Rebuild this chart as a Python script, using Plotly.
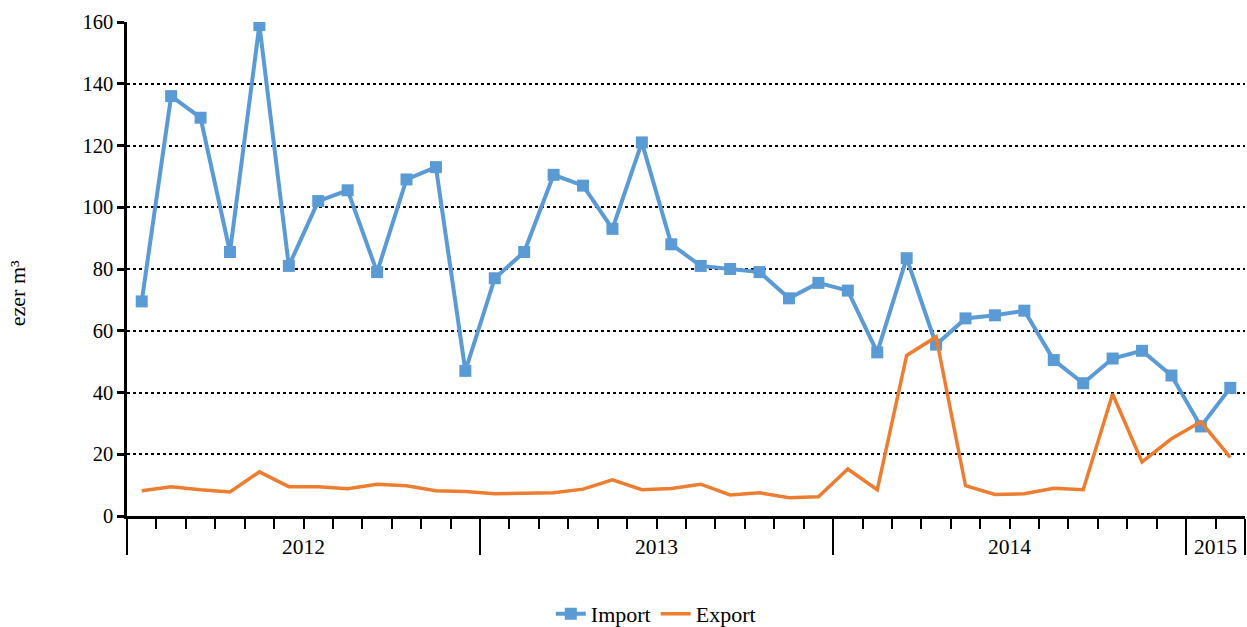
import plotly.graph_objects as go

months = list(range(38))  # Jan 2012 .. Feb 2015
import_vals = [69.5, 136, 129, 85.5, 159, 81, 102, 105.5, 79, 109, 113, 47,
               77, 85.5, 110.5, 107, 93, 121, 88, 81, 80, 79, 70.5, 75.5,
               73, 53, 83.5, 55.5, 64, 65, 66.5, 50.5, 43, 51, 53.5, 45.5,
               29, 41.5]
export_vals = [8.2, 9.5, 8.5, 7.8, 14.3, 9.5, 9.5, 8.8, 10.3, 9.8, 8.2, 7.9,
               7.2, 7.3, 7.5, 8.7, 11.7, 8.5, 8.9, 10.3, 6.8, 7.5, 5.9, 6.2,
               15.2, 8.5, 52, 58, 9.8, 7, 7.2, 9, 8.5, 39.5, 17.5, 25,
               30.5, 19]
years = ["2012", "2013", "2014", "2015"]
year_months = [12, 12, 12, 2]
y_ticks = [0, 20, 40, 60, 80, 100, 120, 140, 160]

FONT = "Liberation Serif"

# year boundaries & centres derived from month counts
bounds = [-0.5]
for n in year_months:
    bounds.append(bounds[-1] + n)
centres = [(bounds[i] + bounds[i + 1]) / 2 for i in range(len(years))]
month_bounds = [m - 0.5 for m in months] + [months[-1] + 0.5]

fig = go.Figure()
fig.add_trace(go.Scatter(x=months, y=import_vals, name="Import",
                         mode="lines+markers",
                         line=dict(color="#5B9BD5", width=4),
                         marker=dict(symbol="square", size=12, color="#5B9BD5")))
fig.add_trace(go.Scatter(x=months, y=export_vals, name="Export",
                         mode="lines",
                         line=dict(color="#ED7D31", width=3.5)))

xr = [month_bounds[0], month_bounds[-1]]
fig.update_layout(
    width=1247, height=627,
    margin=dict(l=127, r=2, t=22, b=111, autoexpand=False),
    paper_bgcolor="white", plot_bgcolor="white",
    font=dict(family=FONT, size=20, color="black"),
    showlegend=True,
    legend=dict(orientation="h", x=0.473, xanchor="center",
                yref="container", y=0.021, yanchor="middle",
                font=dict(family=FONT, size=22)),
    xaxis=dict(range=xr, tickmode="array", tickvals=bounds,
               ticks="outside", ticklen=36, tickwidth=2, tickcolor="black",
               minor=dict(tickmode="array", tickvals=month_bounds,
                          ticks="outside", ticklen=10, tickwidth=2,
                          tickcolor="black", showgrid=False),
               showticklabels=False, showgrid=False, zeroline=False,
               showline=True, linecolor="black", linewidth=2.5,
               automargin=False),
    yaxis=dict(range=[0, 160], tickmode="array", tickvals=y_ticks,
               ticks="outside", ticklen=7, tickwidth=2.5, tickcolor="black",
               showgrid=True, gridcolor="black", griddash="dot", gridwidth=1.5,
               zeroline=False, showline=True, linecolor="black", linewidth=2.5,
               tickfont=dict(family=FONT, size=20.5, color="black"),
               automargin=False),
)

fig.add_annotation(x=-0.0984, y=0.451, xref="paper", yref="paper",
                   text="ezer m³", textangle=-90, showarrow=False,
                   xanchor="center", yanchor="middle",
                   font=dict(family=FONT, size=22, color="black"))

for yr, c in zip(years, centres):
    fig.add_annotation(x=c, y=-0.0628, xref="x", yref="paper", text=yr,
                       showarrow=False, yanchor="middle",
                       font=dict(family=FONT, size=21.5, color="black"))

fig.write_html("out.html",
               config={"displayModeBar": False},
               post_script="document.body.style.margin='0';"
                           "document.body.style.overflow='hidden';")
